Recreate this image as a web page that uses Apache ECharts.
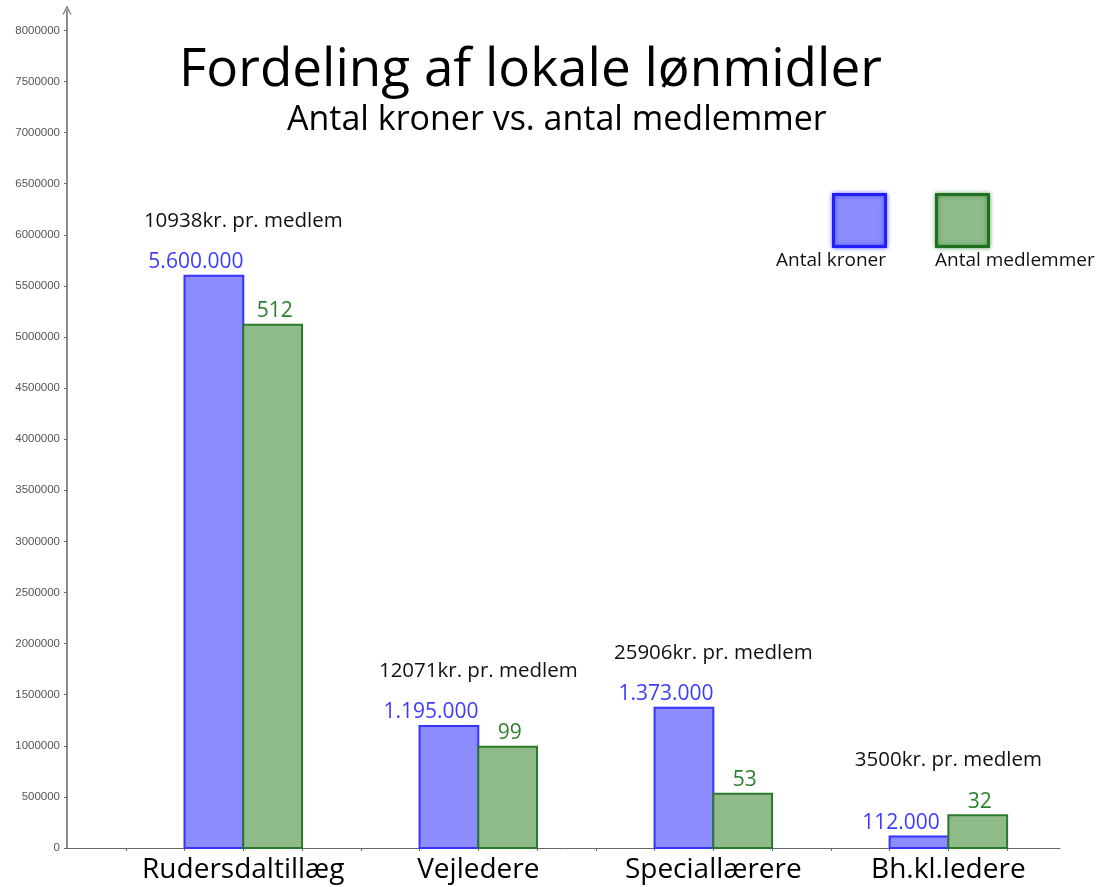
<!DOCTYPE html>
<html>
<head>
<meta charset="utf-8">
<script src="https://cdn.jsdelivr.net/npm/echarts@6/dist/echarts.min.js"></script>
<style>
  html, body { margin: 0; padding: 0; background: #fff; }
  #chart { width: 1101px; height: 887px; }
</style>
</head>
<body>
<div id="chart"></div>
<script>
// ---- data ----
const categories = ['Rudersdaltillæg', 'Vejledere', 'Speciallærere', 'Bh.kl.ledere'];
const kroner = [5600000, 1195000, 1373000, 112000];
const medlemmer = [512, 99, 53, 32];
const krPrMedlem = [10938, 12071, 25906, 3500];
const memberScale = 10000; // green bars drawn as members x 10000 on the kroner axis
const yMin = 0, yMax = 8200000, yInterval = 500000;
const titleText = 'Fordeling af lokale lønmidler';
const subtitleText = 'Antal kroner vs. antal medlemmer';
const seriesNames = ['Antal kroner', 'Antal medlemmer'];

// ---- layout / style ----
const FONT = '"Open Sans", "Noto Sans", sans-serif';
const blueFill = '#8c8cff', blueStroke = '#3535ff', blueText = '#3c3cff';
const greenFill = '#8fbb8b', greenStroke = '#2b7a2b', greenText = '#2f7f2f';
const catCenter = i => 3 + 4 * i;   // category boundary position on the x scale (units)
const catLabelMap = {};
categories.forEach((c, i) => { catLabelMap[catCenter(i)] = c; });

function fmtDots(v) { return String(v).replace(/\B(?=(\d{3})+(?!\d))/g, '.'); }

const chart = echarts.init(document.getElementById('chart'), null, { renderer: 'canvas' });

function barRender(side, fill, stroke, textColor, labelFn, dx) {
  return function (params, api) {
    const c = api.value(0);
    const x0 = side === 'left' ? c - 1 : c;
    const x1 = side === 'left' ? c : c + 1;
    const p0 = api.coord([x0, 0]);
    const p1 = api.coord([x1, api.value(1)]);
    return {
      type: 'group',
      children: [
        { type: 'rect',
          shape: { x: p0[0], y: p1[1], width: p1[0] - p0[0], height: p0[1] - p1[1] },
          style: { fill: fill, stroke: stroke, lineWidth: 2 } },
        { type: 'text',
          style: { x: (p0[0] + p1[0]) / 2 + dx, y: p1[1] - 3, text: labelFn(params.dataIndex),
                   fill: textColor, font: '21px ' + FONT, align: 'center', verticalAlign: 'bottom' } }
      ]
    };
  };
}

const option = {
  backgroundColor: '#ffffff',
  animation: false,
  title: [
    { text: titleText, left: 179, top: 44, padding: 0,
      textStyle: { fontFamily: FONT, fontSize: 53, fontWeight: 'normal', color: '#000' } },
    { text: subtitleText, left: 287, top: 103, padding: 0,
      textStyle: { fontFamily: FONT, fontSize: 34, fontWeight: 'normal', color: '#000' } }
  ],
  grid: { left: 67, right: 41, top: 10, bottom: 39, containLabel: false },
  xAxis: {
    type: 'value', min: 0, max: 16.9, interval: 1,
    splitLine: { show: false },
    axisLine: { show: true, onZero: false, lineStyle: { color: '#666', width: 1 } },
    axisTick: { show: true, length: 3, lineStyle: { color: '#666' } },
    axisLabel: {
      showMaxLabel: false, showMinLabel: false,
      formatter: v => catLabelMap[Math.round(v)] && Math.abs(v - Math.round(v)) < 1e-6 ? catLabelMap[Math.round(v)] : '',
      fontFamily: FONT, fontSize: 28, color: '#000', margin: 8
    }
  },
  yAxis: {
    type: 'value', min: yMin, max: yMax, interval: yInterval,
    splitLine: { show: false },
    axisLine: { show: true, symbol: ['none', 'path://M0,10 L5,0 L10,10 L8.6,10 L5,2.6 L1.4,10 Z'],
                symbolSize: [9, 9], symbolOffset: [0, 0], lineStyle: { color: '#666', width: 1.5 } },
    axisTick: { show: true, length: 3, lineStyle: { color: '#666' } },
    axisLabel: { showMaxLabel: false, fontFamily: '"Liberation Sans", Arial, sans-serif',
                 fontSize: 11.5, color: '#555', margin: 7,
                 formatter: v => (v % yInterval === 0 ? String(v) : '') }
  },
  series: [
    { name: seriesNames[0], type: 'custom',
      data: kroner.map((v, i) => [catCenter(i), v]),
      renderItem: barRender('left', blueFill, blueStroke, blueText, i => fmtDots(kroner[i]), -18),
      z: 2 },
    { name: seriesNames[1], type: 'custom',
      data: medlemmer.map((m, i) => [catCenter(i), m * memberScale]),
      renderItem: barRender('right', greenFill, greenStroke, greenText, i => String(medlemmer[i]), 2),
      z: 3 },
    { name: 'kr. pr. medlem', type: 'custom',
      data: krPrMedlem.map((k, i) => [catCenter(i), Math.max(kroner[i], medlemmer[i] * memberScale)]),
      renderItem: function (params, api) {
        const p = api.coord([api.value(0), api.value(1)]);
        return { type: 'text',
          style: { x: p[0], y: p[1] - 55, text: krPrMedlem[params.dataIndex] + 'kr. pr. medlem',
                   fill: '#111', font: '20.5px ' + FONT, align: 'center', verticalAlign: 'middle' } };
      },
      z: 4 }
  ],
  graphic: [
    { type: 'rect', left: 832, top: 193, shape: { width: 52, height: 52 },
      style: { fill: blueFill, stroke: '#2020ff', lineWidth: 3, shadowBlur: 4, shadowColor: 'rgba(0,0,255,0.5)' } },
    { type: 'rect', left: 935, top: 193, shape: { width: 52, height: 52 },
      style: { fill: greenFill, stroke: '#1f701f', lineWidth: 3, shadowBlur: 4, shadowColor: 'rgba(0,110,0,0.5)' } },
    { type: 'text', left: 776, top: 251,
      style: { text: seriesNames[0], fill: '#111', font: '19px ' + FONT } },
    { type: 'text', left: 935, top: 251,
      style: { text: seriesNames[1], fill: '#111', font: '19px ' + FONT } }
  ]
};
chart.setOption(option);
</script>
</body>
</html>
